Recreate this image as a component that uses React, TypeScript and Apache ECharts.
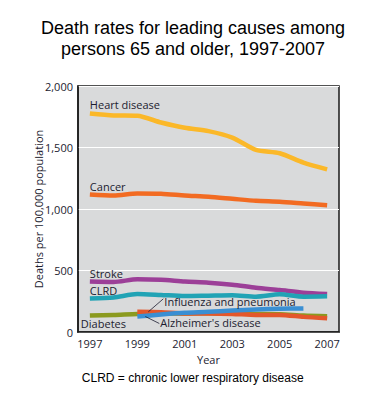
import React, { useEffect, useRef } from "react";
import * as echarts from "echarts";

const years = ["1997","1998","1999","2000","2001","2002","2003","2004","2005","2006","2007"];
const heartDisease = [1777, 1761, 1758, 1703, 1660, 1633, 1581, 1480, 1453, 1377, 1322];
const cancer = [1118, 1110, 1127, 1124, 1110, 1099, 1083, 1067, 1059, 1045, 1031];
const stroke = [410, 406, 429, 424, 410, 401, 385, 360, 341, 320, 309];
const clrd = [273, 281, 309, 301, 292, 295, 298, 287, 306, 287, 290];
const diabetes = [134, 139, 147, 150, 150, 153, 150, 147, 145, 134, 128];
const influenza = [null, null, 164, 161, 150, 150, 147, 139, 139, 123, 112];
const alzheimers = [null, null, 126, 142, 156, 164, 175, 183, 189, 191, null];
const yTicks = [0, 500, 1000, 1500, 2000];

const labelFont = "'Open Sans', 'Noto Sans', sans-serif";
const textColor = "#1c1c30";

export default function App() {
  const ref = useRef<HTMLDivElement>(null);
  useEffect(() => {
    if (!ref.current) return;
    const chart = echarts.init(ref.current, null, { renderer: "svg" });
    const line = (name: string, data: any[], color: string, z: number) => ({
      name, type: "line", data, symbol: "none", smooth: 0.25, z,
      lineStyle: { color, width: 4.5, cap: "butt", join: "round" },
      connectNulls: false,
    });
    chart.setOption({
      animation: false,
      title: {
        text: "Death rates for leading causes among\npersons 65 and older, 1997-2007",
        left: "center", top: 12,
        textStyle: { fontFamily: "'Liberation Sans', Arial, sans-serif", fontSize: 18, fontWeight: "normal", color: "#000", lineHeight: 21 },
      },
      grid: {
        left: 78, right: 47, top: 86, bottom: 76, show: true,
        backgroundColor: "#d9dadb", borderColor: "#1a1a1a", borderWidth: 1.5,
      },
      xAxis: {
        type: "category", data: years, boundaryGap: true,
        name: "Year", nameLocation: "middle", nameGap: 22, nameMoveOverlap: false,
        nameTextStyle: { fontFamily: labelFont, fontSize: 11, color: textColor },
        axisLine: { lineStyle: { color: "#1a1a1a", width: 1.5 } },
        axisTick: { alignWithLabel: true, interval: 0, length: 5, lineStyle: { color: "#1a1a1a" } },
        axisLabel: { interval: 1, fontFamily: labelFont, fontSize: 11, color: textColor, margin: 6 },
        splitLine: { show: false },
      },
      yAxis: {
        type: "value", min: 0, max: 2000, interval: 500,
        name: "Deaths per 100,000 population", nameLocation: "middle", nameGap: 34, nameRotate: 90,
        nameMoveOverlap: false,
        nameTextStyle: { fontFamily: labelFont, fontSize: 11, color: textColor },
        axisLine: { show: true, lineStyle: { color: "#1a1a1a", width: 1.5 } },
        axisTick: { show: false },
        axisLabel: {
          fontFamily: labelFont, fontSize: 11, color: textColor, margin: 5,
          formatter: (v: number) => (yTicks.includes(v) ? v.toLocaleString("en-US") : ""),
        },
        splitLine: { show: true, lineStyle: { color: "#ffffff", width: 1 } },
      },
      series: [
        line("Heart disease", heartDisease, "#fbb829", 5),
        line("Cancer", cancer, "#f26b22", 5),
        line("Stroke", stroke, "#9c3f98", 5),
        line("CLRD", clrd, "#21a3b5", 5),
        line("Diabetes", diabetes, "#8b9a1f", 3),
        line("Influenza and pneumonia", influenza, "#e4572b", 4),
        line("Alzheimer's disease", alzheimers, "#3a8fd3", 5),
      ],
    });

    const px = (i: number, v: number) => chart.convertToPixel({ gridIndex: 0 }, [i, v]) as number[];
    const t = (text: string, x: number, y: number) => ({
      type: "text", x, y, z: 100,
      style: { text, fontFamily: labelFont, fontSize: 11, fill: textColor, verticalAlign: "middle" },
    });
    const h = px(0, heartDisease[0]);
    const c = px(0, cancer[0]);
    const s = px(0, stroke[0]);
    const cl = px(0, clrd[0]);
    const d = px(0, diabetes[0]);
    const inf = px(2, influenza[2] as number);
    const alz = px(2, alzheimers[2] as number);
    const caption = px(0, 0);
    chart.setOption({
      graphic: [
        t("Heart disease", h[0], h[1] - 9),
        t("Cancer", c[0], c[1] - 8),
        t("Stroke", s[0], s[1] - 8),
        t("CLRD", cl[0], cl[1] - 8),
        t("Diabetes", d[0] - 9, d[1] + 7.5),
        t("Influenza and pneumonia", inf[0] + 27, inf[1] - 10),
        t("Alzheimer's disease", alz[0] + 23, alz[1] + 6),
        { type: "line", z: 100, shape: { x1: inf[0] + 11, y1: inf[1], x2: inf[0] + 26, y2: inf[1] - 13 }, style: { stroke: textColor, lineWidth: 0.8 } },
        { type: "line", z: 100, shape: { x1: alz[0] + 8, y1: alz[1], x2: alz[0] + 22, y2: alz[1] + 7 }, style: { stroke: textColor, lineWidth: 0.8 } },
        {
          type: "text", x: caption[0] - 8, y: 378, z: 100,
          style: { text: "CLRD = chronic lower respiratory disease", fontFamily: "'Liberation Sans', Arial, sans-serif", fontSize: 12, fill: "#000", verticalAlign: "middle" },
        },
      ],
    });
    return () => chart.dispose();
  }, []);
  return <div ref={ref} style={{ position: "absolute", left: 0, top: 0, width: 386, height: 408 }} />;
}
